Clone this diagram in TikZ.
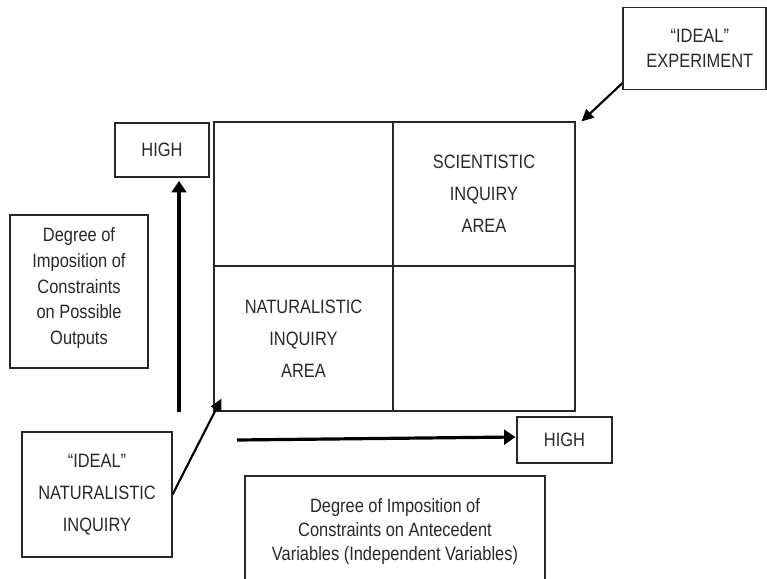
\documentclass[tikz,border=0pt]{standalone}
\usepackage{fontspec}
\setmainfont[FakeStretch=0.85]{Liberation Sans}
\usetikzlibrary{arrows.meta}
\definecolor{linec}{RGB}{40,40,40}
\definecolor{textc}{RGB}{40,40,40}
\begin{document}
\begin{tikzpicture}[x=0.75pt,y=-0.75pt,
  every node/.style={font=\fontsize{14.5}{18.75}\selectfont, text=textc},
  box/.style={draw=linec, line width=0.8pt, inner sep=0pt, align=center},
  wide/.style={font=\fontsize{14.5}{24}\selectfont},
  cell/.style={box, wide},
  thinarrow/.style={draw=black, line width=1.6pt, -{Triangle[length=9pt,width=8.5pt]}},
  thickarrow/.style={draw=black, line width=2.4pt, -{Triangle[length=8.5pt,width=11pt]}}]
\useasboundingbox (0,0) rectangle (767,578);
\clip (0,0) rectangle (767,578);

% boxes
\node[box, minimum width=107.25pt, minimum height=61.5pt] (exp) at (694.5,48.5) {\hspace*{8pt}“IDEAL”\\\hspace*{8pt}EXPERIMENT};
\node[box, minimum width=70.5pt, minimum height=40.5pt] (highV) at (162,150) {HIGH};
\node[box, minimum width=103.5pt, minimum height=114.75pt, font=\fontsize{14.5}{19.3}\selectfont] (outputs) at (79,291.5) {\\[-14pt]Degree of\\Imposition of\\Constraints\\on Possible\\Outputs};
\node[box, wide, minimum width=112.5pt, minimum height=93.75pt] (nat) at (97,494.5) {“IDEAL”\\NATURALISTIC\\INQUIRY};
\node[box, minimum width=71.25pt, minimum height=34.5pt] (highH) at (564.5,440) {HIGH};
\node[box, minimum width=225pt, minimum height=82.5pt, font=\fontsize{14.5}{18}\selectfont] (ante) at (395,531) {Degree of Imposition of\\Constraints on Antecedent\\Variables (Independent Variables)};

% grid
\node[cell, minimum width=134.25pt, minimum height=108pt] (tl) at (303.5,194) {};
\node[cell, minimum width=136.5pt, minimum height=108pt] (tr) at (484,194) {SCIENTISTIC\\INQUIRY\\AREA};
\node[cell, minimum width=134.25pt, minimum height=108.75pt] (bl) at (303.5,338.5) {NATURALISTIC\\INQUIRY\\AREA};
\node[cell, minimum width=136.5pt, minimum height=108.75pt] (br) at (484,338.5) {};

% connectors
\draw[thinarrow] ([shift={(0,-7)}]exp.south west) -- ([shift={(6,0)}]tr.north east);
\draw[thinarrow] (nat.east) -- ([shift={(8,-13)}]bl.south west);

\coordinate (vs) at (179,412);
\coordinate (ve) at (179,181);
\draw[thickarrow] (vs) -- (ve);
\coordinate (hs) at (237,440);
\draw[thickarrow] (hs) -- ([shift={(-1,-3)}]highH.west);
\end{tikzpicture}
\end{document}
